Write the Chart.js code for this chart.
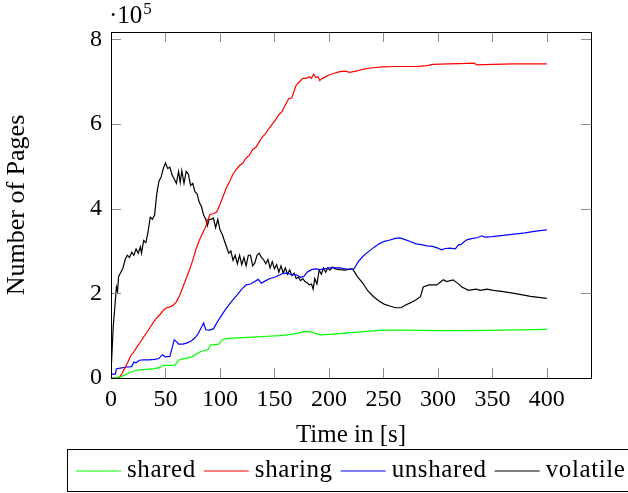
<!DOCTYPE html>
<html>
<head>
<meta charset="utf-8">
<script src="https://cdn.jsdelivr.net/npm/chart.js@4.4.0/dist/chart.umd.min.js"></script>
<style>
html, body { margin: 0; padding: 0; background: #fff; }
</style>
</head>
<body>
<canvas id="chartPages" width="628" height="493"></canvas>
<script>
// values are in units of 10^5 pages, time in seconds
const SCALE = 1e5;

const sharedX = [0, 5, 10, 15, 20, 25, 30, 40, 45, 48, 55, 59, 62, 66, 70, 74, 78, 82, 86, 89, 91, 95, 99, 102, 106, 112, 125, 140, 155, 165, 172, 178, 184, 188, 192, 200, 210, 220, 235, 250, 270, 300, 330, 360, 400];
const sharedY = [0, 0.01, 0.04, 0.1, 0.16, 0.19, 0.2, 0.22, 0.25, 0.3, 0.3, 0.31, 0.42, 0.45, 0.47, 0.5, 0.56, 0.62, 0.65, 0.67, 0.78, 0.79, 0.8, 0.9, 0.93, 0.94, 0.96, 0.98, 1.0, 1.03, 1.06, 1.1, 1.09, 1.05, 1.02, 1.03, 1.05, 1.07, 1.1, 1.13, 1.13, 1.12, 1.12, 1.13, 1.15];

const sharingX = [0, 5, 8, 10, 12, 15, 18, 21, 24, 27, 30, 33, 36, 39, 42, 45, 48, 51, 54, 57, 60, 63, 66, 69, 72, 75, 78, 81, 84, 87, 89, 91, 94, 97, 100, 103, 106, 109, 112, 115, 118, 121, 124, 127, 130, 133, 136, 139, 142, 145, 148, 151, 154, 157, 160, 163, 166, 168, 170, 173, 176, 179, 182, 184, 186, 188, 190, 191.5, 194, 197, 200, 205, 210, 215, 219, 225, 232, 240, 250, 260, 270, 280, 285, 290, 295, 310, 320, 333, 336, 350, 370, 400];
const sharingY = [0, 0, 0.02, 0.1, 0.2, 0.35, 0.52, 0.62, 0.74, 0.85, 0.97, 1.08, 1.2, 1.32, 1.42, 1.5, 1.6, 1.66, 1.68, 1.72, 1.8, 1.95, 2.15, 2.35, 2.55, 2.78, 3.05, 3.25, 3.42, 3.58, 3.75, 3.87, 3.88, 3.92, 4.1, 4.3, 4.5, 4.65, 4.82, 4.93, 5.02, 5.08, 5.2, 5.26, 5.4, 5.45, 5.58, 5.7, 5.78, 5.9, 6.0, 6.1, 6.22, 6.3, 6.45, 6.6, 6.62, 6.78, 6.92, 7.0, 7.08, 7.08, 7.12, 7.08, 7.18, 7.1, 7.12, 7.03, 7.08, 7.12, 7.16, 7.2, 7.24, 7.25, 7.22, 7.25, 7.3, 7.33, 7.35, 7.36, 7.36, 7.36, 7.37, 7.38, 7.41, 7.42, 7.43, 7.44, 7.4, 7.41, 7.42, 7.42];

const unsharedX = [0, 4, 5, 10, 15, 19, 21, 23, 26, 30, 35, 40, 44, 47, 50, 54, 56, 58, 60, 62, 66, 70, 74, 77, 80, 83, 85, 87, 90, 94, 97, 100, 104, 108, 112, 116, 120, 124, 128, 132, 135, 138, 142, 146, 150, 154, 158, 162, 166, 170, 174, 177, 180, 184, 188, 192, 196, 200, 205, 210, 215, 220, 223, 227, 231, 236, 241, 246, 251, 256, 261, 265, 270, 275, 280, 285, 290, 295, 300, 303, 307, 311, 316, 319, 321, 324, 327, 332, 337, 340, 343, 350, 360, 370, 380, 390, 400];
const unsharedY = [0.09, 0.09, 0.22, 0.24, 0.26, 0.27, 0.38, 0.36, 0.42, 0.43, 0.43, 0.44, 0.46, 0.55, 0.5, 0.51, 0.7, 0.9, 0.86, 0.8, 0.8, 0.83, 0.88, 0.95, 1.05, 1.2, 1.3, 1.14, 1.13, 1.16, 1.3, 1.42, 1.58, 1.72, 1.85, 1.97, 2.1, 2.2, 2.22, 2.28, 2.33, 2.24, 2.3, 2.35, 2.38, 2.42, 2.48, 2.47, 2.44, 2.44, 2.38, 2.4, 2.5, 2.56, 2.58, 2.56, 2.58, 2.6, 2.6, 2.6, 2.58, 2.57, 2.58, 2.75, 2.87, 2.98, 3.08, 3.17, 3.23, 3.26, 3.3, 3.31, 3.27, 3.22, 3.17, 3.15, 3.12, 3.11, 3.07, 3.03, 3.06, 3.07, 3.05, 3.15, 3.15, 3.22, 3.27, 3.3, 3.32, 3.36, 3.33, 3.34, 3.37, 3.4, 3.43, 3.47, 3.5];

const volatileX = [0, 2, 5, 6, 7, 9, 11, 13, 15, 17, 19, 21, 23, 25, 27, 28, 30, 32, 34, 36, 38, 40, 42, 44, 46, 48, 50, 52, 54, 56, 58, 60, 62, 63.5, 65, 67, 69, 71, 73, 75, 77, 79, 81, 83, 85, 87, 88.5, 90, 92, 94, 96, 98, 100, 102, 104, 106, 108, 110, 112, 114, 116, 118, 120, 122, 124, 126, 128, 130, 132, 134, 136, 138, 140, 142, 144, 146, 148, 150, 152, 154, 156, 158, 160, 162, 164, 166, 168, 170, 172, 174, 176, 178, 180, 182, 184, 185.5, 187, 189, 191, 193, 195, 197, 199, 201, 203, 206, 210, 215, 220, 222, 226, 231, 236, 241, 246, 251, 256, 261, 266, 270, 275, 280, 284, 286.5, 292, 299, 305, 308, 314, 320, 322, 328, 335, 339, 345, 351, 360, 370, 385, 400];
const volatileY = [0.1, 1.2, 2.15, 2.05, 2.4, 2.5, 2.6, 2.8, 2.9, 2.85, 2.97, 2.9, 3.05, 2.95, 3.1, 2.95, 3.25, 3.2, 3.45, 3.8, 3.75, 3.85, 4.35, 4.65, 4.75, 4.95, 5.08, 4.95, 4.98, 4.8, 4.7, 4.6, 4.88, 4.62, 4.9, 4.6, 4.88, 4.82, 4.55, 4.6, 4.4, 4.35, 4.15, 4.05, 3.85, 3.75, 3.6, 3.75, 3.75, 3.78, 3.55, 3.75, 3.5, 3.4, 3.25, 3.1, 2.95, 3.0, 2.78, 2.9, 2.7, 2.9, 2.68, 2.85, 2.65, 2.9, 2.9, 2.65, 2.72, 2.9, 2.95, 2.85, 2.8, 2.7, 2.8, 2.6, 2.75, 2.58, 2.68, 2.5, 2.65, 2.48, 2.6, 2.45, 2.55, 2.42, 2.48, 2.35, 2.38, 2.3, 2.35, 2.28, 2.25, 2.2, 2.22, 2.1, 2.35, 2.22, 2.55, 2.45, 2.6, 2.5, 2.6, 2.55, 2.62, 2.58, 2.56, 2.55, 2.58, 2.57, 2.4, 2.24, 2.05, 1.92, 1.82, 1.74, 1.7, 1.66, 1.66, 1.72, 1.78, 1.85, 1.92, 2.15, 2.2, 2.2, 2.32, 2.28, 2.32, 2.2, 2.15, 2.07, 2.1, 2.07, 2.1, 2.07, 2.04, 2.0, 1.93, 1.88];

const xTicks = [0, 50, 100, 150, 200, 250, 300, 350, 400];
const yTicks = [0, 2, 4, 6, 8];

const FONT = "25px 'Liberation Serif'";

function toPoints(xs, ys) {
    return xs.map((t, i) => ({x: t, y: ys[i] * SCALE}));
}

const framePlugin = {
    id: 'frame',
    afterDraw(chart) {
        const {ctx, chartArea: a, scales: {x, y}} = chart;
        ctx.save();
        // inward ticks on all four sides
        ctx.strokeStyle = '#8c8c8c';
        ctx.lineWidth = 1;
        ctx.beginPath();
        x.ticks.forEach(t => {
            const px = Math.round(x.getPixelForValue(t.value)) + 0.5;
            ctx.moveTo(px, a.bottom); ctx.lineTo(px, a.bottom - 10);
            ctx.moveTo(px, a.top); ctx.lineTo(px, a.top + 10);
        });
        y.ticks.forEach(t => {
            const py = Math.round(y.getPixelForValue(t.value)) + 0.5;
            ctx.moveTo(a.left, py); ctx.lineTo(a.left + 10, py);
            ctx.moveTo(a.right, py); ctx.lineTo(a.right - 10, py);
        });
        ctx.stroke();
        ctx.strokeStyle = '#000';
        ctx.strokeRect(Math.round(a.left) + 0.5, Math.round(a.top) + 0.5, Math.round(a.width), Math.round(a.height));

        // ·10^5 multiplier
        ctx.fillStyle = '#000';
        ctx.textBaseline = 'alphabetic';
        ctx.font = FONT;
        ctx.fillText('·10', 109, 23);
        const w = ctx.measureText('·10').width;
        ctx.font = "17px 'Liberation Serif'";
        ctx.fillText('5', 109 + w + 1, 14);

        // legend box
        ctx.font = FONT;
        ctx.letterSpacing = '0.6px';
        const top = 449, h = 42, left = 67.5;
        ctx.strokeStyle = '#000';
        ctx.lineWidth = 1;
        ctx.strokeRect(left, top + 0.5, 640 - left, h);
        let lx = 76;
        chart.data.datasets.forEach(ds => {
            ctx.strokeStyle = ds.borderColor;
            ctx.lineWidth = 1.2;
            ctx.beginPath();
            ctx.moveTo(lx, 471); ctx.lineTo(lx + 45, 471);
            ctx.stroke();
            lx += 51;
            ctx.fillStyle = '#000';
            ctx.fillText(ds.label, lx, 477);
            lx += ctx.measureText(ds.label).width + 8;
        });
        ctx.restore();
    }
};

new Chart(document.getElementById('chartPages'), {
    type: 'line',
    data: {
        datasets: [{
            label: 'shared',
            data: toPoints(sharedX, sharedY),
            borderColor: '#00ff00',
        }, {
            label: 'sharing',
            data: toPoints(sharingX, sharingY),
            borderColor: '#ff0000',
        }, {
            label: 'unshared',
            data: toPoints(unsharedX, unsharedY),
            borderColor: '#0000ff',
        }, {
            label: 'volatile',
            data: toPoints(volatileX, volatileY),
            borderColor: '#000000',
        }]
    },
    options: {
        responsive: false,
        animation: false,
        layout: {padding: {left: 0, right: 37, top: 32, bottom: 43}},
        elements: {
            line: {borderWidth: 1.2, tension: 0},
            point: {radius: 0}
        },
        plugins: {legend: {display: false}, tooltip: {enabled: false}},
        scales: {
            x: {
                type: 'linear',
                min: 0,
                max: 440.5,
                grid: {display: false, drawTicks: false},
                border: {display: false},
                afterBuildTicks: s => { s.ticks = xTicks.map(v => ({value: v})); },
                afterFit: s => { s.height = 72; },
                ticks: {color: '#000', padding: 7, maxRotation: 0, font: {family: 'Liberation Serif', size: 24}},
                title: {display: true, text: 'Time in [s]', color: '#000', padding: 0, font: {family: 'Liberation Serif', size: 25}}
            },
            y: {
                min: 0,
                max: 8.175 * SCALE,
                grid: {display: false, drawTicks: false},
                border: {display: false},
                afterBuildTicks: s => { s.ticks = yTicks.map(v => ({value: v * SCALE})); },
                afterFit: s => { s.width = 111; },
                ticks: {color: '#000', padding: 9, callback: v => v / SCALE, font: {family: 'Liberation Serif', size: 24}},
                title: {display: true, text: 'Number of Pages', color: '#000', padding: 2, font: {family: 'Liberation Serif', size: 26}}
            }
        }
    },
    plugins: [framePlugin]
});
</script>
</body>
</html>
